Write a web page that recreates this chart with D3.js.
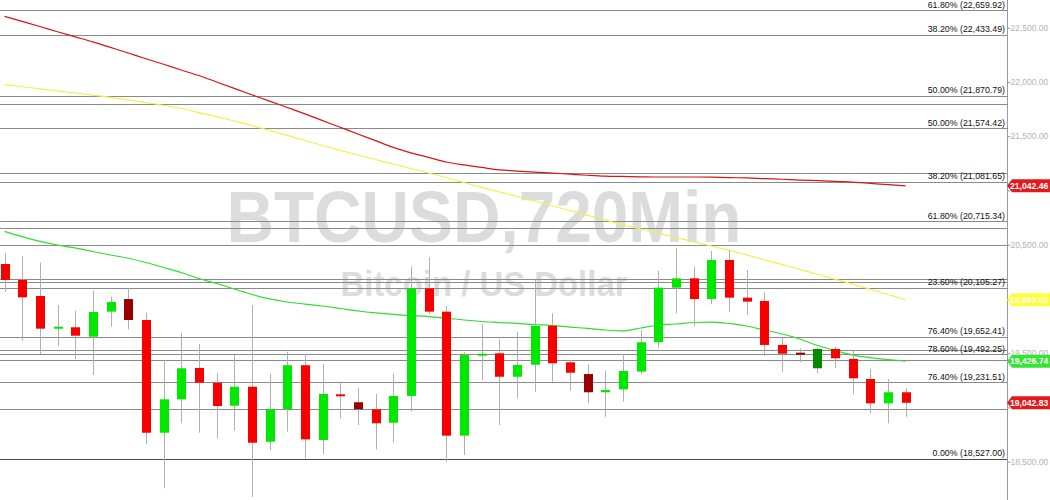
<!DOCTYPE html>
<html>
<head>
<meta charset="utf-8">
<script src="https://cdn.jsdelivr.net/npm/d3@7"></script>
<style>
    body { margin: 0; background: #fff; }
    svg { display: block; font-family: "Liberation Sans", Arial, sans-serif; }
</style>
</head>
<body>
<div id="chart"></div>
<script>
// Candles, one per 720 min bar
const opens = [20322, 20175, 20027, 19730, 19739, 19652, 19883, 19999, 19806, 18767, 19075, 19364, 19228, 19016, 19191, 18684, 18983, 19389, 18700, 19121, 19048, 18983, 18859, 19106, 20098, 19883, 18740, 19481, 19499, 19283, 19394, 19754, 19416, 19308, 19140, 19167, 19330, 19601, 20104, 20190, 19999, 20359, 20012, 19981, 19576, 19505, 19361, 19539, 19447, 19262, 19038, 19140];
const highs = [20421, 20396, 20334, 19944, 19892, 20076, 20021, 20098, 19873, 19437, 19689, 19585, 19320, 19483, 19944, 19308, 19514, 19493, 19400, 19228, 19177, 19124, 19315, 20297, 20384, 19938, 19511, 19766, 19628, 19698, 20175, 19868, 19437, 19398, 19339, 19490, 19714, 20258, 20472, 20297, 20442, 20451, 20267, 20061, 19643, 19545, 19551, 19560, 19530, 19354, 19262, 19177];
const lows = [20067, 19615, 19493, 19566, 19444, 19299, 19744, 19720, 18663, 18255, 18854, 18767, 18716, 18786, 18175, 18608, 18777, 18527, 18571, 18900, 18838, 18614, 18675, 18961, 19861, 18495, 18562, 19253, 18838, 19084, 19145, 19237, 19154, 19038, 18915, 19053, 19308, 19551, 19868, 19751, 19951, 19877, 19852, 19474, 19324, 19416, 19315, 19361, 19121, 18946, 18854, 18915];
const closes = [20175, 20015, 19726, 19744, 19661, 19880, 19972, 19806, 18767, 19075, 19361, 19228, 19013, 19191, 18675, 18983, 19389, 18706, 19124, 19106, 18983, 18854, 19106, 20098, 19883, 18740, 19483, 19495, 19283, 19391, 19751, 19407, 19320, 19140, 19161, 19336, 19601, 20104, 20190, 19999, 20359, 20012, 19975, 19576, 19495, 19486, 19539, 19453, 19269, 19038, 19140, 19042.83];
// bars the platform paints in the muted shade
const mutedBars = [7, 20, 33, 45, 46];

// Moving averages at each bar
const slowAvg = [22605, 22558, 22511, 22463, 22416, 22369, 22318, 22267, 22214, 22163, 22110, 22059, 22000, 21941, 21882, 21823, 21765, 21706, 21644, 21582, 21520, 21459, 21397, 21347, 21305, 21262, 21235, 21212, 21189, 21179, 21168, 21160, 21150, 21140, 21132, 21129, 21126, 21124, 21124, 21124, 21122, 21118, 21116, 21109, 21103, 21096, 21090, 21083, 21077, 21065, 21053, 21042.46];
const midAvg = [21976, 21956, 21937, 21917, 21898, 21878, 21857, 21834, 21810, 21785, 21755, 21718, 21680, 21640, 21599, 21553, 21507, 21460, 21414, 21370, 21327, 21285, 21244, 21202, 21161, 21119, 21073, 21029, 20986, 20944, 20903, 20859, 20815, 20771, 20728, 20684, 20645, 20606, 20566, 20527, 20488, 20447, 20405, 20361, 20318, 20273, 20228, 20182, 20136, 20089, 20041, 19993.02];
const fastAvg = [20623, 20574, 20531, 20497, 20470, 20437, 20405, 20375, 20336, 20290, 20244, 20188, 20142, 20092, 20041, 20000, 19972, 19953, 19935, 19912, 19889, 19871, 19857, 19847, 19838, 19824, 19806, 19792, 19783, 19774, 19764, 19755, 19741, 19728, 19714, 19705, 19732, 19760, 19769, 19783, 19787, 19774, 19751, 19714, 19677, 19631, 19571, 19525, 19483, 19460, 19442, 19426.74];

// Fibonacci levels with labels, plus unlabeled levels
const fibLevels = [22659.92, 22433.49, 21870.79, 21574.42, 21081.65, 20715.34, 20105.27, 19652.41, 19492.25, 19231.51, 18527.00];
const fibPcts = ["61.80%", "38.20%", "50.00%", "50.00%", "38.20%", "61.80%", "23.60%", "76.40%", "78.60%", "76.40%", "0.00%"];
const plainLevels = [21797, 21161, 20658, 20493, 20188, 20152, 19534, 19437, 18990];

const axisTicks = [18500, 19000, 19500, 20000, 20500, 21000, 21500, 22000, 22500];

const W = 1050, H = 500, axisX = 1007;

const svg = d3.select("#chart").append("svg")
    .attr("width", W)
    .attr("height", H);

let y = d3.scaleLinear()
    .domain([18500, 22500])
    .range([461.7, 27.7]);

let x = d3.scaleLinear()
    .domain([0, closes.length - 1])
    .range([4.5, 905.7]);

let fmt = d3.format(",.2f");
let crisp = v => Math.round(v) + 0.5;

// Watermark
svg.append("text")
    .attr("x", 484)
    .attr("y", 242)
    .attr("text-anchor", "middle")
    .attr("font-size", 73)
    .attr("font-weight", "bold")
    .attr("fill", "#dcdcdc")
    .attr("textLength", 515)
    .attr("lengthAdjust", "spacingAndGlyphs")
    .text("BTCUSD,720Min");
svg.append("text")
    .attr("x", 484)
    .attr("y", 296)
    .attr("text-anchor", "middle")
    .attr("font-size", 35)
    .attr("font-weight", "bold")
    .attr("fill", "#dcdcdc")
    .attr("textLength", 287)
    .attr("lengthAdjust", "spacingAndGlyphs")
    .text("Bitcoin / US Dollar");

// Horizontal levels
let levels = svg.append("g");
levels.selectAll("line.plain")
    .data(plainLevels)
    .join("line")
    .attr("class", "plain")
    .attr("x1", 0).attr("x2", axisX)
    .attr("y1", d => crisp(y(d))).attr("y2", d => crisp(y(d)))
    .attr("stroke", "#8a8a8a");
levels.selectAll("line.fib")
    .data(fibLevels)
    .join("line")
    .attr("class", "fib")
    .attr("x1", 0).attr("x2", axisX)
    .attr("y1", d => crisp(y(d))).attr("y2", d => crisp(y(d)))
    .attr("stroke", (d, i) => i === fibLevels.length - 1 ? "#4a4a4a" : "#8a8a8a");
levels.selectAll("text")
    .data(fibLevels)
    .join("text")
    .attr("x", 1005)
    .attr("y", d => y(d) - 2.5)
    .attr("text-anchor", "end")
    .attr("font-size", 8.8)
    .attr("fill", "#111")
    .text((d, i) => fibPcts[i] + " (" + fmt(d) + ")");

// Moving averages
let avgLine = function (vals) {
    return d3.line()
        .x((d, i) => x(i))
        .y(d => y(d))
        .curve(d3.curveMonotoneX)(vals);
};
[[slowAvg, "#d81414"], [midAvg, "#f2f04a"], [fastAvg, "#2fdc2f"]].forEach(function (s) {
    svg.append("path")
        .attr("d", avgLine(s[0]))
        .attr("fill", "none")
        .attr("stroke", s[1])
        .attr("stroke-width", 1.2);
});

// Candles
let bars = svg.append("g");
closes.forEach(function (c, i) {
    let o = opens[i];
    let up = c >= o;
    let muted = mutedBars.indexOf(i) >= 0;
    let color = up ? (muted ? "#008a00" : "#00e800") : (muted ? "#990000" : "#f80000");
    let cx = Math.round(x(i));
    bars.append("line")
        .attr("x1", cx + 0.5).attr("x2", cx + 0.5)
        .attr("y1", y(highs[i])).attr("y2", y(lows[i]))
        .attr("stroke", "#b0b0b0");
    let top = y(Math.max(o, c)), bot = y(Math.min(o, c));
    bars.append("rect")
        .attr("x", cx - 4)
        .attr("width", 9)
        .attr("y", top)
        .attr("height", Math.max(bot - top, 2))
        .attr("fill", color);
});

// Last value badges
let badges = [
    [slowAvg[slowAvg.length - 1], "#e3191c"],
    [midAvg[midAvg.length - 1], "#ffff33"],
    [fastAvg[fastAvg.length - 1], "#33e433"],
    [closes[closes.length - 1], "#e3191c"]
];

// Right axis (labels sitting under a badge are covered, so leave them out)
let covered = v => badges.some(b => Math.abs(y(b[0]) - y(v)) < 6);
let axis = svg.append("g")
    .attr("transform", "translate(" + (axisX + 0.5) + ",0)")
    .call(d3.axisRight(y).tickValues(axisTicks)
        .tickFormat(d => covered(d) ? "" : fmt(d))
        .tickSize(3).tickPadding(0));
axis.select(".domain").attr("stroke", "#9a9a9a").attr("d", "M0,0V" + H);
axis.selectAll(".tick line").attr("stroke", "#9a9a9a");
axis.selectAll(".tick text")
    .attr("fill", "#b3b3b3")
    .attr("font-size", 8.5)
    .attr("font-family", "Liberation Sans, Arial, sans-serif");

badges.forEach(function (b) {
    let cy = y(b[0]);
    svg.append("path")
        .attr("d", "M" + axisX + "," + cy + "L" + (axisX + 5) + "," + (cy - 6.5) + "H" + W +
            "V" + (cy + 6.5) + "H" + (axisX + 5) + "Z")
        .attr("fill", b[1]);
    svg.append("text")
        .attr("x", axisX + 3)
        .attr("y", cy + 3.2)
        .attr("font-size", 8.6)
        .attr("font-weight", "bold")
        .attr("fill", "#fff")
        .text(fmt(b[0]));
});
</script>
</body>
</html>
